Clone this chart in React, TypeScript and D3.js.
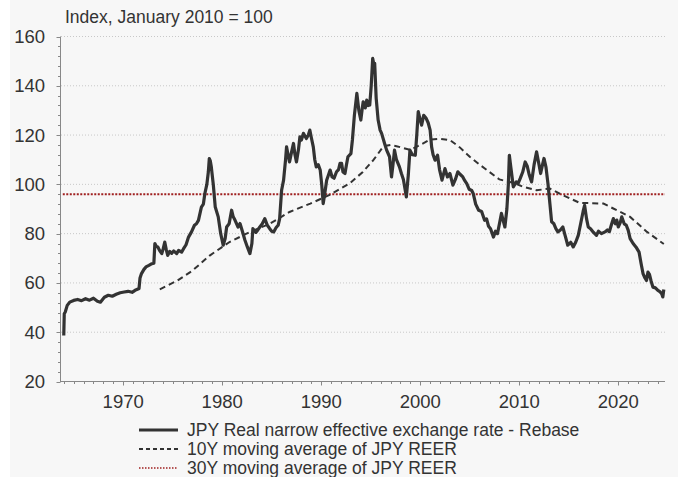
import React from "react";
import * as d3 from "d3";

// JPY real narrow effective exchange rate (Jan 2010 = 100)
const reerDates = [
  1964.0, 1964.05, 1964.15, 1964.35, 1964.6, 1965.0, 1965.4, 1965.8, 1966.2, 1966.6, 1967.0, 1967.4, 1967.7,
  1968.1, 1968.5, 1968.9, 1969.3, 1969.7, 1970.1, 1970.5, 1970.9, 1971.2, 1971.5, 1971.6, 1971.7, 1971.85,
  1972.1, 1972.3, 1972.6, 1972.9, 1973.1, 1973.2, 1973.35, 1973.5, 1973.7, 1973.9, 1974.05, 1974.2, 1974.35,
  1974.5, 1974.7, 1974.9, 1975.1, 1975.4, 1975.6, 1975.9, 1976.1, 1976.35, 1976.6, 1976.9, 1977.2, 1977.4,
  1977.6, 1977.9, 1978.1, 1978.25, 1978.45, 1978.6, 1978.7, 1978.8, 1978.9, 1979.1, 1979.3, 1979.6, 1979.85,
  1980.1, 1980.3, 1980.45, 1980.7, 1980.95, 1981.1, 1981.3, 1981.6, 1981.8, 1982.0, 1982.3, 1982.55, 1982.8,
  1983.0, 1983.1, 1983.4, 1983.6, 1983.8, 1984.05, 1984.3, 1984.55, 1984.8, 1985.0, 1985.2, 1985.45, 1985.65,
  1985.8, 1986.0, 1986.2, 1986.4, 1986.5, 1986.65, 1986.8, 1987.0, 1987.2, 1987.35, 1987.5, 1987.7, 1987.85,
  1988.0, 1988.2, 1988.5, 1988.7, 1988.85, 1989.0, 1989.2, 1989.35, 1989.5, 1989.7, 1989.9, 1990.05, 1990.2,
  1990.35, 1990.55, 1990.75, 1990.9, 1991.1, 1991.3, 1991.55, 1991.75, 1991.9, 1992.06, 1992.2, 1992.4,
  1992.55, 1992.7, 1993.0, 1993.15, 1993.35, 1993.6, 1993.8, 1994.0, 1994.15, 1994.24, 1994.45, 1994.6,
  1994.75, 1994.9, 1995.05, 1995.2, 1995.3, 1995.4, 1995.55, 1995.75, 1995.95, 1996.1, 1996.4, 1996.6,
  1996.9, 1997.1, 1997.25, 1997.4, 1997.6, 1997.9, 1998.1, 1998.3, 1998.6, 1998.8, 1998.96, 1999.2, 1999.5,
  1999.65, 1999.8, 1999.95, 2000.14, 2000.35, 2000.6, 2000.8, 2001.0, 2001.15, 2001.3, 2001.5, 2001.75,
  2001.95, 2002.2, 2002.5, 2002.75, 2003.0, 2003.3, 2003.55, 2003.8, 2004.05, 2004.3, 2004.5, 2004.7,
  2004.95, 2005.2, 2005.35, 2005.6, 2005.9, 2006.2, 2006.5, 2006.7, 2006.9, 2007.1, 2007.4, 2007.6, 2007.8,
  2008.0, 2008.2, 2008.4, 2008.55, 2008.75, 2008.9, 2009.0, 2009.15, 2009.4, 2009.7, 2009.9, 2010.1,
  2010.35, 2010.6, 2010.8, 2011.0, 2011.25, 2011.5, 2011.75, 2011.95, 2012.16, 2012.35, 2012.5, 2012.7,
  2012.9, 2013.1, 2013.27, 2013.5, 2013.7, 2013.9, 2014.15, 2014.4, 2014.65, 2014.9, 2015.2, 2015.45,
  2015.7, 2015.96, 2016.2, 2016.45, 2016.6, 2016.8, 2016.97, 2017.2, 2017.5, 2017.8, 2018.0, 2018.3,
  2018.66, 2018.9, 2019.1, 2019.3, 2019.5, 2019.7, 2019.85, 2020.0, 2020.2, 2020.35, 2020.6, 2020.8,
  2021.0, 2021.2, 2021.5, 2021.8, 2022.1, 2022.3, 2022.5, 2022.7, 2022.85, 2023.0, 2023.15, 2023.3,
  2023.5, 2023.75, 2024.0, 2024.2, 2024.4, 2024.5, 2024.6,
];
const reerValues = [
  38.7, 47.5, 48.2, 50.9, 52.2, 52.9, 53.3, 52.8, 53.6, 53.0, 53.8, 52.6, 52.2,
  54.2, 55.0, 54.6, 55.4, 56.0, 56.3, 56.6, 56.2, 57.0, 57.5, 57.7, 62, 63.8,
  65.5, 66.5, 67.1, 67.8, 68.0, 76.0, 74.8, 74.6, 73.0, 71.9, 74, 76.6, 73.5,
  71.2, 72.8, 72.0, 73.0, 71.9, 73.2, 72.5, 73.9, 75.5, 78.6, 80.7, 83.4, 84,
  85.4, 90.8, 92, 96.3, 100, 105, 110.5, 109.5, 107.1, 100, 90.8, 86.8, 80,
  75.3, 78, 82.7, 84, 89.5, 87, 85.4, 82.7, 84.1, 81.5, 77.3, 74.5, 71.9,
  76, 82, 80.5, 81.5, 82.7, 84, 86.1, 83.5, 82, 81, 80.7, 82.5, 83.4,
  86, 97.6, 101.7, 110, 115.2, 112, 109.1, 113, 116.6, 112, 109.1, 114, 119.3,
  118, 120.7, 118.6, 120, 122, 119, 115.2, 110, 107.1, 108, 105.8, 100, 92.2,
  96, 101.7, 104, 105.8, 103, 102.5, 105.1, 106, 108.5, 108.5, 105, 104.4,
  108, 111.2, 112.5, 118, 128, 136.9, 130, 126.1, 131, 133.5, 131, 134.2,
  132, 132.2, 140, 151.1, 149, 149.1, 135, 126.1, 122, 120.7, 116.6, 114,
  111.2, 103, 108, 113.9, 110, 107.1, 104.4, 102, 94.9, 104, 113.9, 112, 111.8,
  120, 129.5, 127, 124, 128, 126.8, 125, 122, 115.2, 112, 109.8, 111.8,
  106, 101.7, 106.4, 103, 104.4, 99.7, 102, 105.1, 104, 103, 101.5, 100.3,
  98, 97.5, 96.3, 92, 89.5, 89, 85.4, 86, 83, 82, 78.6, 81, 80,
  84, 88.2, 85, 82.7, 90, 100, 111.8, 107, 99, 101, 100.5, 102.4,
  105, 109.1, 107.5, 104, 101, 108, 113.2, 109, 104.4, 108, 110.5, 107,
  100.3, 92, 84.8, 84, 82, 80.7, 81.5, 82.7, 79, 75.3, 76.5, 74.6,
  76.5, 79.3, 84, 89, 91.5, 86, 82.7, 82, 80.5, 79.3, 81, 80,
  80.7, 81.5, 80.8, 83.5, 86.1, 84, 85.5, 82.7, 84.5, 86.8, 84, 83.5,
  81.4, 78, 76, 74.5, 72.5, 68, 63.8, 62, 61, 64.4, 63.5, 61,
  58.3, 58, 57, 56.5, 55.5, 54.3, 57.3,
];

// 10Y moving average
const ma10Dates = [
  1973.7, 1975.5, 1977.0, 1978.7, 1980.7, 1982.8, 1984.8, 1986.8, 1988.9, 1990.9, 1992.9, 1994.2, 1995.3,
  1996.3, 1997.0, 1997.6, 1999.0, 2000.0, 2001.0, 2002.0, 2003.0, 2004.0, 2005.0, 2006.0, 2007.0, 2008.0,
  2009.5, 2010.4, 2011.75, 2013.1, 2014.4, 2016.1, 2018.5, 2019.5, 2021.2, 2022.9, 2024.6,
];
const ma10Values = [
  57.4, 61, 65, 71, 76.5, 80.7, 84, 88.8, 92.2, 95.8, 100.5, 105, 110,
  115.5, 116, 115.5, 114, 116, 118.2, 118.5, 118, 115, 111.2, 108, 105, 102,
  100.5, 99, 97.6, 98.3, 95.6, 92.5, 92.2, 90.2, 86.8, 80.7, 75.8,
];

// 30Y moving average (flat line)
const ma30Value = 96;

const yTicks = [20, 40, 60, 80, 100, 120, 140, 160];
const xTicks = [1970, 1980, 1990, 2000, 2010, 2020];

const legendLabels = [
  "JPY Real narrow effective exchange rate - Rebase",
  "10Y moving average of JPY REER",
  "30Y moving average of JPY REER",
];

const W = 678;
const H = 477;
const font = "'Liberation Sans', Arial, sans-serif";
const ink = "#333333";

export default function App() {
  const x = d3.scaleLinear().domain([1963.62, 2024.72]).range([60, 665]);
  const y = d3.scaleLinear().domain([20, 160]).range([381.5, 36.5]);

  const line = d3
    .line<[number, number]>()
    .x((d) => x(d[0]))
    .y((d) => y(d[1]));

  const reer = reerDates.map((d, i) => [d, reerValues[i]] as [number, number]);
  const ma10 = ma10Dates.map((d, i) => [d, ma10Values[i]] as [number, number]);

  const minorY = d3.range(20, 160.01, 4);
  const minorX = d3.range(1964, 2025, 1);

  const legendStyles = [
    { stroke: ink, width: 3, dash: undefined as string | undefined },
    { stroke: ink, width: 2, dash: "4,3" },
    { stroke: "#a02020", width: 1.5, dash: "1.5,1.5" },
  ];

  return (
    <svg
      width={W}
      height={H}
      style={{ position: "absolute", left: 0, top: 0, fontFamily: font }}
    >
      <rect x={0} y={0} width={W} height={H} fill="#ffffff" />
      <rect x={10} y={0} width={W - 10} height={H} fill="#f7f7f7" />

      <text x={65} y={23} fontSize={17.5} fill={ink}>
        Index, January 2010 = 100
      </text>

      {/* grid */}
      {yTicks.slice(1).map((t) => (
        <line
          key={"g" + t}
          x1={61}
          x2={665}
          y1={y(t)}
          y2={y(t)}
          stroke="#c8c8c8"
          strokeWidth={1}
          strokeDasharray="1,2"
        />
      ))}

      {/* y axis */}
      <line x1={60.5} x2={60.5} y1={y(160)} y2={y(20)} stroke="#888" />
      {minorY.map((t) => (
        <line
          key={"my" + t}
          x1={60.5 - (t % 20 === 0 ? 4 : 2.5)}
          x2={60.5}
          y1={Math.round(y(t)) + 0.5}
          y2={Math.round(y(t)) + 0.5}
          stroke="#888"
        />
      ))}
      {yTicks.map((t) => (
        <text
          key={"yl" + t}
          x={45}
          y={y(t)}
          textAnchor="end"
          dominantBaseline="central"
          fontSize={18.5}
          fill={ink}
        >
          {t}
        </text>
      ))}

      {/* x axis */}
      <line x1={60} x2={665} y1={381.5} y2={381.5} stroke="#888" />
      {minorX.map((t) => (
        <line
          key={"mx" + t}
          x1={Math.round(x(t)) + 0.5}
          x2={Math.round(x(t)) + 0.5}
          y1={381.5}
          y2={381.5 + (t % 10 === 0 ? 4 : 2.5)}
          stroke="#888"
        />
      ))}
      {xTicks.map((t) => (
        <text key={"xl" + t} x={x(t)} y={408} textAnchor="middle" fontSize={18.5} fill={ink}>
          {t}
        </text>
      ))}

      {/* series */}
      <line
        x1={x(1963.9)}
        x2={665}
        y1={y(ma30Value)}
        y2={y(ma30Value)}
        stroke="#a02020"
        strokeWidth={2}
        strokeDasharray="2,1.5"
      />
      <path
        d={line(ma10) ?? ""}
        fill="none"
        stroke={ink}
        strokeWidth={2}
        strokeDasharray="6,4"
      />
      <path
        d={line(reer) ?? ""}
        fill="none"
        stroke={ink}
        strokeWidth={3.2}
        strokeLinejoin="round"
      />

      {/* legend */}
      {legendLabels.map((label, i) => {
        const cy = 430 + i * 19;
        const s = legendStyles[i];
        return (
          <g key={label}>
            <line
              x1={139}
              x2={178}
              y1={cy}
              y2={cy}
              stroke={s.stroke}
              strokeWidth={s.width}
              strokeDasharray={s.dash}
            />
            <text x={187} y={cy} dominantBaseline="central" fontSize={17.5} fill={ink}>
              {label}
            </text>
          </g>
        );
      })}
    </svg>
  );
}
